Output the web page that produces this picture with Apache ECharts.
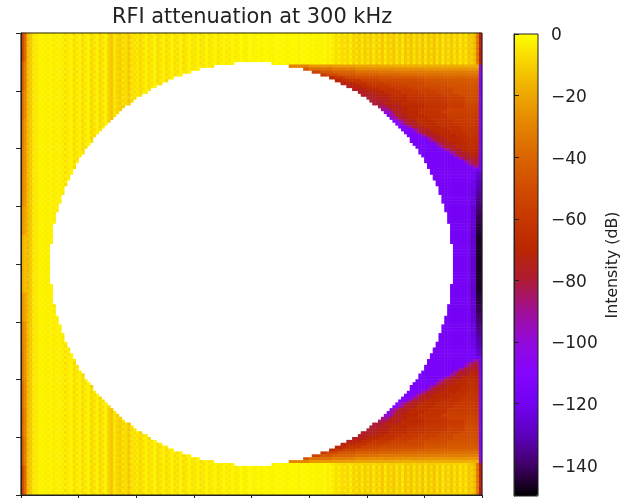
<!DOCTYPE html>
<html><head><meta charset="utf-8">
<style>html,body{margin:0;padding:0;background:#fff}#c{width:631px;height:498px}</style>
<script src="https://cdn.jsdelivr.net/npm/echarts@6/dist/echarts.min.js"></script>
</head><body><div id="c"></div>
<script>
const titleText = 'RFI attenuation at 300 kHz';
const colorbarName = 'Intensity (dB)';
const colorbarTicks = [0,-20,-40,-60,-80,-100,-120,-140];
const colorbarRange = [-150,0];
const gridCount = 160;
// gnuplot colormap, sampled every 10 dB from -150 to 0
const colormapStops = ['#000000','#420068','#5d01be','#7202f3','#8405fe','#9309dd','#a11096','#ae1a35','#ba2700','#c63700','#d04c00','#da6400','#e48300','#eda600','#f6cf00','#ffff00'];
// Intensity of the yellow band, per column (dB), even and odd rows
const columnLevelsA = [
-42,-28,-16,-10,-6,-4,-3,-2,-4,-2,
-3,-5,-2,-4,-3,-7,-3,-2,-8,-3,
-4,-8,-3,-3,-9,-4,-3,-9,-4,-3,
-10,-11,-6,-9,-11,-5,-8,-10,-5,-7,
-4,-9,-4,-3,-8,-4,-3,-8,-4,-3,
-8,-4,-3,-7,-4,-3,-8,-4,-2,-6,
-4,-3,-7,-4,-2,-6,-3,-2,-6,-3,
-2,-5,-3,-2,-5,-3,-1,-4,-2,-1,
-2,-3,-2,-2,-1,-2,-3,-2,-1,-2,
-2,-1,-3,-2,-1,-2,-2,-1,-2,-1,
-3,-2,-2,-3,-2,-1,-4,-2,-3,-7,
-3,-8,-4,-9,-3,-10,-5,-11,-4,-11,
-5,-12,-4,-11,-5,-13,-4,-12,-6,-13,
-5,-12,-4,-13,-6,-14,-5,-12,-6,-14,
-5,-13,-6,-14,-5,-13,-4,-12,-6,-13,
-5,-12,-4,-11,-5,-13,-10,-14,-30,-70];
const columnLevelsB = [
-50,-24,-13,-12,-4,-5,-2,-3,-2,-4,
-2,-3,-4,-2,-5,-3,-5,-2,-5,-6,
-2,-6,-6,-2,-6,-7,-3,-6,-7,-3,
-8,-13,-5,-8,-9,-9,-6,-13,-8,-5,
-6,-6,-7,-3,-5,-7,-2,-6,-7,-3,
-5,-6,-2,-5,-7,-2,-5,-6,-2,-4,
-6,-2,-4,-6,-2,-4,-5,-2,-4,-5,
-2,-3,-5,-2,-3,-4,-1,-3,-4,-1,
-3,-2,-1,-3,-2,-1,-2,-3,-2,-1,
-1,-2,-2,-1,-2,-1,-3,-2,-1,-2,
-2,-1,-3,-2,-3,-2,-3,-3,-5,-6,
-6,-7,-8,-7,-6,-8,-9,-9,-7,-10,
-9,-10,-7,-9,-9,-11,-7,-10,-10,-11,
-8,-10,-7,-11,-10,-12,-8,-11,-9,-12,
-8,-11,-10,-12,-8,-11,-7,-10,-9,-11,
-8,-10,-7,-9,-8,-11,-12,-16,-34,-78];
// Left columns, one reading per 10 rows from the top
const leftEdgeLevels = [-55,-45,-38,-35,-32,-30,-25,-18,-18,-25,-32,-35,-38,-40,-45,-55];
const leftInnerLevels = [-38,-32,-28,-25,-25,-24,-20,-14,-14,-20,-25,-25,-28,-30,-32,-38];
// Top half, one entry per row: hole start col, hole end col, then (dB, up-to col) runs to the right of the hole
const upperRows = [
[],[],[],[],[],[],[],[],[],[],
[74,87],
[67,93,-30,100,-24,108,-22,116,-20,124,-19,132,-18,159,-100,160],
[62,98,-44,100,-36,108,-32,116,-28,124,-27,132,-26,140,-25,159,-104,160],
[59,101,-54,104,-46,108,-40,116,-36,124,-34,132,-33,140,-32,159,-106,160],
[56,104,-60,106,-52,110,-46,116,-42,124,-40,132,-38,140,-37,148,-36,159,-110,160],
[53,107,-68,109,-60,112,-54,116,-49,124,-46,132,-44,140,-41,159,-110,160],
[51,109,-72,111,-66,114,-60,118,-55,124,-51,132,-49,140,-46,148,-44,159,-110,160],
[49,111,-74,113,-70,116,-64,120,-58,126,-54,132,-52,140,-48,148,-46,159,-110,160],
[47,113,-76,115,-72,118,-67,122,-60,128,-56,134,-53,140,-50,148,-47,159,-110,160],
[45,115,-76,117,-74,120,-69,124,-63,130,-58,136,-55,142,-52,150,-48,159,-110,160],
[44,117,-77,119,-75,122,-71,126,-65,132,-60,138,-57,144,-54,150,-49,159,-110,160],
[42,118,-77,121,-76,124,-72,128,-67,134,-62,140,-58,146,-55,152,-50,159,-110,160],
[40,120,-78,123,-74,128,-69,134,-64,140,-60,148,-56,154,-51,159,-110,160],
[39,121,-79,124,-76,128,-70,134,-65,140,-61,148,-57,154,-52,159,-110,160],
[38,122,-80,126,-72,132,-67,140,-62,148,-58,154,-53,159,-110,160],
[36,124,-84,127,-76,132,-69,140,-63,148,-59,154,-54,159,-110,160],
[35,125,-90,128,-74,134,-67,140,-62,148,-55,159,-110,160],
[34,126,-98,129,-78,132,-70,138,-64,146,-56,159,-110,160],
[33,127,-108,128,-90,130,-76,134,-69,140,-64,148,-57,159,-110,160],
[32,128,-108,129,-90,131,-76,135,-69,141,-64,148,-58,159,-110,160],
[31,129,-110,131,-90,133,-76,137,-69,143,-64,150,-59,159,-110,160],
[30,130,-110,132,-90,134,-76,138,-69,144,-64,150,-60,159,-110,160],
[29,131,-112,134,-90,136,-76,140,-69,146,-65,152,-61,159,-110,160],
[28,132,-112,136,-90,138,-76,142,-70,148,-65,153,-62,159,-110,160],
[27,133,-112,137,-90,139,-76,143,-70,149,-65,154,-62,159,-112,160],
[26,134,-114,139,-90,141,-76,145,-70,151,-66,155,-63,159,-112,160],
[25,135,-114,141,-90,143,-76,147,-70,152,-66,156,-64,159,-112,160],
[25,135,-114,142,-90,144,-76,148,-70,153,-66,159,-112,160],
[24,136,-116,144,-90,146,-76,150,-70,155,-67,159,-112,160],
[23,137,-116,145,-90,147,-76,151,-70,156,-68,159,-112,160],
[22,138,-116,147,-90,149,-78,153,-70,159,-114,160],
[22,138,-116,149,-90,151,-78,155,-72,159,-114,160],
[21,139,-116,150,-90,152,-78,156,-72,159,-114,160],
[20,140,-116,152,-90,154,-78,159,-114,160],
[20,140,-116,154,-90,156,-80,159,-116,160],
[19,141,-116,155,-90,157,-82,159,-116,160],
[19,141,-116,157,-92,159,-118,160],
[18,142,-116,158,-120,160],
[18,142,-116,156,-120,158,-126,160],
[17,143,-116,156,-120,158,-128,160],
[17,143,-116,156,-120,158,-128,160],
[16,144,-116,156,-122,158,-130,160],
[16,144,-116,156,-122,158,-130,160],
[15,145,-117,156,-122,158,-132,160],
[15,145,-117,156,-122,158,-132,160],
[15,145,-117,156,-124,158,-134,160],
[14,146,-117,156,-124,158,-134,160],
[14,146,-117,156,-124,158,-136,160],
[14,146,-117,156,-124,158,-136,160],
[13,147,-118,156,-124,158,-138,160],
[13,147,-118,156,-126,158,-138,160],
[13,147,-118,156,-126,158,-140,160],
[12,148,-118,156,-126,158,-140,160],
[12,148,-118,156,-126,158,-142,160],
[12,148,-118,156,-126,158,-142,160],
[12,148,-118,156,-126,158,-142,160],
[11,149,-118,156,-126,158,-144,160],
[11,149,-118,156,-128,158,-144,160],
[11,149,-118,156,-128,158,-144,160],
[11,149,-118,156,-128,158,-144,160],
[11,149,-118,156,-128,158,-146,160],
[11,149,-118,156,-128,158,-146,160],
[11,149,-118,156,-128,158,-146,160],
[10,150,-118,156,-128,158,-146,160],
[10,150,-118,156,-128,158,-146,160],
[10,150,-118,156,-128,158,-146,160],
[10,150,-118,156,-128,158,-146,160],
[10,150,-118,156,-128,158,-146,160],
[10,150,-118,156,-128,158,-146,160],
[10,150,-118,156,-128,158,-146,160]];
// The picture is mirror-symmetric about its horizontal centre line
const lowerRows = upperRows.slice().reverse();
const allRows = upperRows.concat(lowerRows);

const cells = [];
allRows.forEach((row, i) => {
  const levels = i % 2 ? columnLevelsB : columnLevelsA;
  const start = row.length ? row[0] : gridCount;
  const end = row.length ? row[1] : gridCount;
  const y = gridCount - 1 - i;
  const block = Math.floor(i / 10);
  for (let c = 0; c < start; c++) {
    const v = c === 0 ? leftEdgeLevels[block] : c === 1 ? leftInnerLevels[block] : levels[c];
    cells.push([c, y, v]);
  }
  if (!row.length) return;
  let c = end;
  for (let k = 2; k + 1 < row.length; k += 2) {
    for (; c < row[k + 1]; c++) cells.push([c, y, row[k]]);
  }
  for (; c < gridCount; c++) cells.push([c, y, levels[c]]);
});
const categories = Array.from({length: gridCount}, (_, i) => i);
const ink = '#222222';
const chart = echarts.init(document.getElementById('c'), null, {renderer: 'canvas'});
chart.setOption({
  animation: false,
  backgroundColor: '#ffffff',
  textStyle: {fontFamily: 'DejaVu Sans'},
  title: {text: titleText, left: 247, top: 2, textAlign: 'center',
    textStyle: {fontFamily: 'DejaVu Sans', fontSize: 20.9, fontWeight: 'normal', color: ink}},
  grid: [
    {left: 21, top: 33, width: 461, height: 462, show: true, borderColor: ink, borderWidth: 1, backgroundColor: 'transparent', z: 6},
    {left: 514, top: 34, width: 24, height: 462, show: true, borderColor: ink, borderWidth: 1, backgroundColor: 'transparent', z: 6}
  ],
  xAxis: [
    {type: 'category', gridIndex: 0, data: categories, show: false},
    {type: 'value', gridIndex: 0, min: 0, max: 8, interval: 1, position: 'bottom', z: 5,
      axisLine: {show: true, lineStyle: {color: ink}}, axisTick: {show: true, length: 4, lineStyle: {color: ink}},
      axisLabel: {show: false}, splitLine: {show: false}},
    {type: 'value', gridIndex: 1, min: 0, max: 1, show: false}
  ],
  yAxis: [
    {type: 'category', gridIndex: 0, data: categories, show: false},
    {type: 'value', gridIndex: 0, min: 0, max: 8, interval: 1, position: 'left', z: 5,
      axisLine: {show: true, lineStyle: {color: ink}}, axisTick: {show: true, length: 5, lineStyle: {color: ink}},
      axisLabel: {show: false}, splitLine: {show: false}},
    {type: 'value', gridIndex: 1, min: colorbarRange[0], max: colorbarRange[1], position: 'right', z: 5,
      axisLine: {show: true, lineStyle: {color: ink}},
      axisTick: {show: true, length: 5, customValues: colorbarTicks, lineStyle: {color: ink}},
      axisLabel: {show: true, customValues: colorbarTicks, margin: 13, fontSize: 17, color: ink, fontFamily: 'DejaVu Sans',
        rich: {t: {fontSize: 17, color: ink, fontFamily: 'DejaVu Sans', padding: [4, 0, 0, 0]}},
        formatter: v => '{t|' + String(v).replace('-', '\u2212') + '}'},
      splitLine: {show: false},
      name: colorbarName, nameLocation: 'middle', nameRotate: 90, nameGap: 67,
      nameTextStyle: {fontSize: 15.8, color: ink, fontFamily: 'DejaVu Sans'}}
  ],
  visualMap: {
    type: 'continuous', seriesIndex: 0, min: colorbarRange[0], max: colorbarRange[1],
    left: 514, top: 34, itemWidth: 24, itemHeight: 462, padding: 0, calculable: false, hoverLink: false,
    text: null, showLabel: false, borderWidth: 0, inRange: {color: colormapStops}, textStyle: {color: 'rgba(0,0,0,0)', fontSize: 1}
  },
  series: [{type: 'heatmap', xAxisIndex: 0, yAxisIndex: 0, data: cells, progressive: 0, emphasis: {disabled: true}, itemStyle: {borderWidth: 0}}]
});
</script></body></html>
